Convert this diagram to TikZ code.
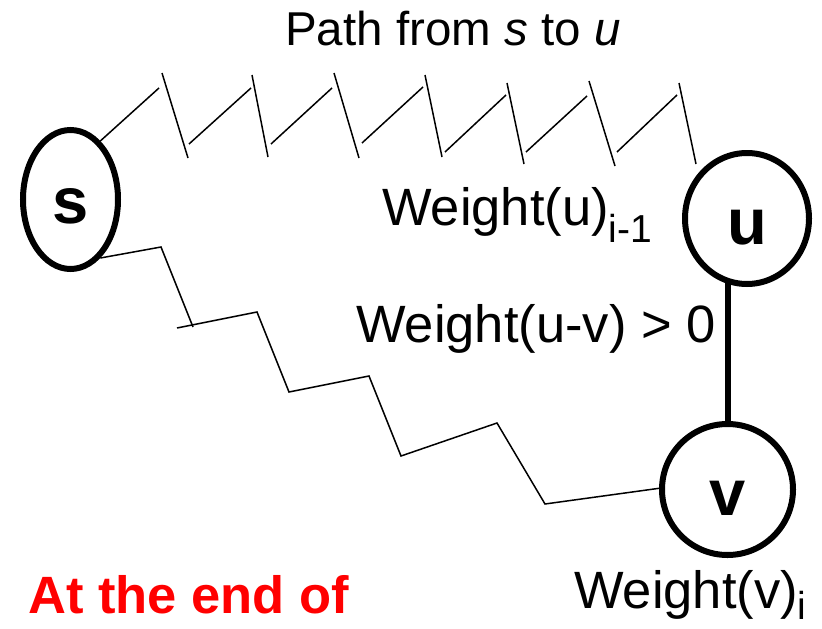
\documentclass[tikz,border=0pt]{standalone}
\usepackage{fontspec}
\setmainfont{Liberation Sans}
\usetikzlibrary{shapes.geometric}
\definecolor{alertred}{RGB}{255,0,0}
\begin{document}
\begin{tikzpicture}[x=1pt,y=-1pt,
  vert/.style={draw, line width=6pt, ellipse, inner sep=0pt},
  letter/.style={font=\fontsize{65}{65}\selectfont\bfseries, inner sep=0pt},
  lbl/.style={font=\fontsize{52.5}{52.5}\selectfont, anchor=base west, inner sep=0pt},
  zig/.style={line width=1.5pt},
  edge/.style={line width=6pt}]
\useasboundingbox (0,0) rectangle (822,629);

% vertices
\node[vert, minimum width=95pt, minimum height=139pt] (s) at (70.5,199.5) {};
\node[vert, minimum width=124pt, minimum height=131pt] (u) at (747,218.5) {};
\node[vert, minimum width=131pt, minimum height=131pt] (v) at (727.5,489.5) {};
\node[letter] (sl) at ([yshift=-7pt]s.center) {s};
\node[letter] (ul) at ([yshift=-9pt]u.center) {u};
\node[letter] (vl) at ([yshift=-9pt]v.center) {v};

% edge u-v
\draw[edge] (v.north) -- (v.north |- u.-108);

% upper path (broken zigzag)
\draw[zig] (s.63) -- (159,88);
\draw[zig] (162,73) -- (188,158);
\draw[zig] (189,144) -- (251,88);
\draw[zig] (252,75) -- (268,157);
\draw[zig] (271,144) -- (332,88);
\draw[zig] (334,73) -- (359,158);
\draw[zig] (362,143) -- (423,87);
\draw[zig] (425,75) -- (442,157);
\draw[zig] (445,152) -- (506,95);
\draw[zig] (507,83) -- (524,164);
\draw[zig] (526,152) -- (587,96);
\draw[zig] (589,81) -- (615,166);
\draw[zig] (617,152) -- (677,95);
\coordinate (uend) at (696,164);
\draw[zig] (679,83) -- (uend);

% lower path
\draw[zig] (s.-63) -- (161,247) -- (193,327);
\draw[zig] (177,328) -- (257,312) -- (289,392) -- (369,376) -- (401,456)
  -- (497,423) -- (545,504) -- (v.179);

% labels
\node[lbl, font=\fontsize{47.5}{47.5}\selectfont] (pt) at (285,45) {Path from \textit{s} to \textit{u}};
\node[lbl] (wu) at (382,225) {Weight(u)\raisebox{-17pt}{\fontsize{39}{39}\selectfont i-1}};
\node[lbl] (wuv) at (356,342) {Weight(u-v) > 0};
\node[lbl] (wv) at (574,608) {Weight(v)\raisebox{-11pt}{\fontsize{39}{39}\selectfont i}};
\node[lbl, font=\fontsize{52.5}{52.5}\selectfont\bfseries, text=alertred] (end) at (28,613) {At the end of};
\end{tikzpicture}
\end{document}
